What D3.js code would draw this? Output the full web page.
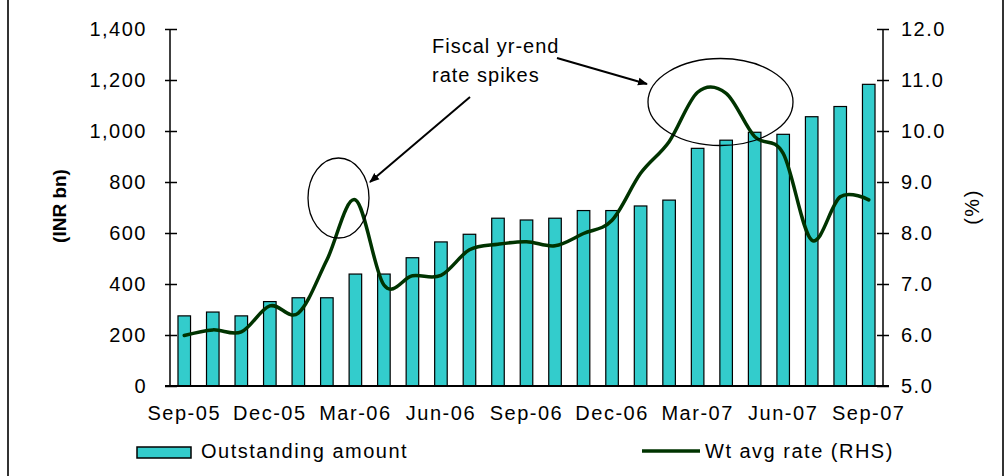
<!DOCTYPE html>
<html>
<head>
<meta charset="utf-8">
<script src="https://cdn.jsdelivr.net/npm/d3@7/dist/d3.min.js"></script>
<style>
  html, body { margin: 0; padding: 0; background: #fff; }
  svg { display: block; font-family: "Liberation Sans", Arial, sans-serif; }
  .tick text { font-size: 20px; letter-spacing: 1.5px; fill: #000; }
</style>
</head>
<body>
<svg id="chart" width="1006" height="476"></svg>
<script>
// Monthly commercial paper data, Sep-05 to Sep-07
const months = ["Sep-05","Oct-05","Nov-05","Dec-05","Jan-06","Feb-06","Mar-06","Apr-06","May-06",
  "Jun-06","Jul-06","Aug-06","Sep-06","Oct-06","Nov-06","Dec-06","Jan-07","Feb-07","Mar-07",
  "Apr-07","May-07","Jun-07","Jul-07","Aug-07","Sep-07"];
const outstanding = [275, 290, 275, 331, 346, 346, 439, 439, 503, 565, 595, 658, 651, 658, 688, 688,
  706, 729, 932, 964, 995, 987, 1056, 1096, 1183];
const wtAvgRate = [5.99, 6.10, 6.06, 6.57, 6.43, 7.47, 8.65, 6.98, 7.16, 7.17, 7.67, 7.78, 7.83, 7.75,
  7.99, 8.25, 9.17, 9.79, 10.76, 10.74, 9.89, 9.56, 7.86, 8.71, 8.65];
const leftTicks = [0, 200, 400, 600, 800, 1000, 1200, 1400];
const rightTicks = [5, 6, 7, 8, 9, 10, 11, 12];
const xLabels = ["Sep-05","Dec-05","Mar-06","Jun-06","Sep-06","Dec-06","Mar-07","Jun-07","Sep-07"];

const svg = d3.select("#chart");
const plot = { left: 170, right: 883, top: 29, bottom: 386 };

const x = d3.scaleBand().domain(months).range([plot.left, plot.right])
  .paddingInner(0.56).paddingOuter(0.28);
const yL = d3.scaleLinear().domain([0, 1400]).range([plot.bottom, plot.top]);
const yR = d3.scaleLinear().domain([5, 12]).range([plot.bottom, plot.top]);

// outer frame lines
svg.append("line").attr("x1", 8).attr("x2", 8).attr("y1", 0).attr("y2", 476)
  .attr("stroke", "#333").attr("stroke-width", 2);
svg.append("line").attr("x1", 1003).attr("x2", 1003).attr("y1", 0).attr("y2", 476)
  .attr("stroke", "#333").attr("stroke-width", 2);

// bars
svg.append("g").selectAll("rect").data(months).join("rect")
  .attr("x", d => x(d))
  .attr("y", (d, i) => yL(outstanding[i]))
  .attr("width", x.bandwidth())
  .attr("height", (d, i) => plot.bottom - yL(outstanding[i]))
  .attr("fill", "#33CCCC").attr("stroke", "#000").attr("stroke-width", 1.2);

// rate line
const line = d3.line()
  .x((d, i) => x(months[i]) + x.bandwidth() / 2)
  .y(d => yR(d))
  .curve(d3.curveCatmullRom.alpha(0));
svg.append("path").datum(wtAvgRate).attr("d", line)
  .attr("fill", "none").attr("stroke", "#003300").attr("stroke-width", 3.5)
  .attr("stroke-linejoin", "round").attr("stroke-linecap", "round");

// left axis
const axL = svg.append("g").attr("transform", `translate(${plot.left},0)`)
  .call(d3.axisLeft(yL).tickValues(leftTicks).tickFormat(d3.format(",")).tickSize(5).tickPadding(18));
axL.selectAll(".tick line").attr("x2", 7).attr("x1", -5).attr("stroke", "#000").attr("stroke-width", 1.5);
axL.select(".domain").attr("stroke", "#000").attr("stroke-width", 1.5).attr("d", `M0,${plot.top}V${plot.bottom}`);

// right axis
const axR = svg.append("g").attr("transform", `translate(${plot.right},0)`)
  .call(d3.axisRight(yR).tickValues(rightTicks).tickFormat(d3.format(".1f")).tickSize(6).tickPadding(12));
axR.selectAll(".tick line").attr("x1", -6).attr("x2", 6).attr("stroke", "#000").attr("stroke-width", 1.5);
axR.select(".domain").attr("stroke", "#000").attr("stroke-width", 1.5).attr("d", `M0,${plot.top}V${plot.bottom}`);

// category axis
const axB = svg.append("g").attr("transform", `translate(0,${plot.bottom})`)
  .call(d3.axisBottom(x).tickValues(xLabels).tickSize(0).tickPadding(20));
axB.select(".domain").attr("stroke", "#000").attr("stroke-width", 2).attr("d", `M${plot.left - 5},0H${plot.right + 6}`);

// axis titles
svg.append("text").attr("transform", "translate(66,206) rotate(-90)")
  .attr("text-anchor", "middle").attr("font-size", 19).attr("font-weight", "bold")
  .text("(INR bn)");
svg.append("text").attr("transform", "translate(979,207) rotate(-90)")
  .attr("text-anchor", "middle").attr("font-size", 20).attr("letter-spacing", 1.5)
  .text("(%)");

// annotation
const note = svg.append("text").attr("font-size", 20).attr("letter-spacing", 1);
note.append("tspan").attr("x", 432).attr("y", 53).text("Fiscal yr-end");
note.append("tspan").attr("x", 432).attr("y", 82).text("rate spikes");

svg.append("defs").append("marker").attr("id", "arrow")
  .attr("viewBox", "0 0 10 10").attr("refX", 9).attr("refY", 5)
  .attr("markerWidth", 5).attr("markerHeight", 5).attr("orient", "auto")
  .append("path").attr("d", "M0,1L10,5L0,9Z").attr("fill", "#000");

svg.append("line").attr("x1", 470).attr("y1", 97).attr("x2", 370).attr("y2", 182)
  .attr("stroke", "#000").attr("stroke-width", 2).attr("marker-end", "url(#arrow)");
svg.append("line").attr("x1", 557).attr("y1", 58).attr("x2", 647).attr("y2", 84)
  .attr("stroke", "#000").attr("stroke-width", 2).attr("marker-end", "url(#arrow)");

svg.append("ellipse").attr("cx", 338.5).attr("cy", 198).attr("rx", 30.5).attr("ry", 40)
  .attr("fill", "none").attr("stroke", "#000").attr("stroke-width", 1.3);
svg.append("ellipse").attr("cx", 720.5).attr("cy", 102).attr("rx", 72.5).attr("ry", 43.5)
  .attr("fill", "none").attr("stroke", "#000").attr("stroke-width", 1.3);

// legend
const lg = svg.append("g");
lg.append("rect").attr("x", 137).attr("y", 447).attr("width", 54).attr("height", 11)
  .attr("fill", "#33CCCC").attr("stroke", "#000").attr("stroke-width", 1.5);
lg.append("text").attr("x", 201).attr("y", 458).attr("font-size", 20).attr("letter-spacing", 1.5)
  .text("Outstanding amount");
lg.append("line").attr("x1", 642).attr("x2", 700).attr("y1", 451).attr("y2", 451)
  .attr("stroke", "#003300").attr("stroke-width", 3.5);
lg.append("text").attr("x", 705).attr("y", 458).attr("font-size", 20).attr("letter-spacing", 1.5)
  .text("Wt avg rate (RHS)");
</script>
</body>
</html>
